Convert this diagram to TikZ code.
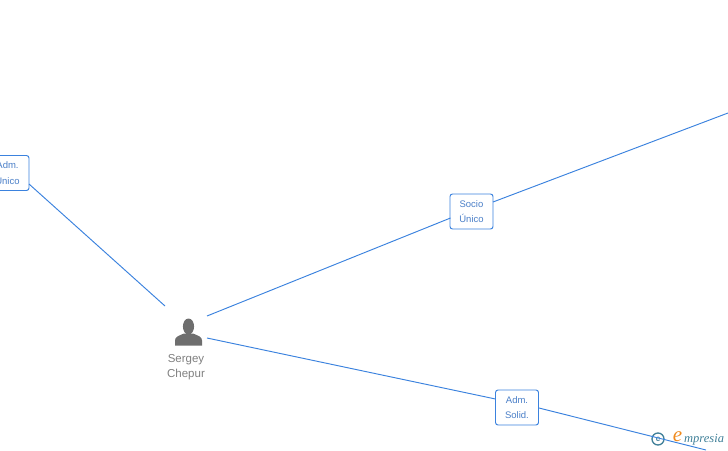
\documentclass[tikz,border=0pt]{standalone}
\usepackage{fontspec}
\setmainfont{Liberation Sans}
\newfontfamily\logofont{Liberation Serif}
\definecolor{linkblue}{HTML}{3B82DE}
\definecolor{labelblue}{HTML}{4A7FC8}
\definecolor{persongray}{HTML}{6E6E6E}
\definecolor{nametext}{HTML}{808080}
\definecolor{logoteal}{HTML}{3F7F98}
\definecolor{logoorange}{HTML}{F08A1E}
\tikzset{
  link/.style={draw=linkblue,line width=0.95pt},
  rolebox/.style={draw=linkblue,line width=0.95pt,rounded corners=2.5pt,fill=white,minimum width=43pt,minimum height=35pt,inner sep=0pt,align=center,text=labelblue,font=\fontsize{9.5}{15.5}\selectfont},
  namelabel/.style={inner sep=0pt,align=center,text=nametext,font=\fontsize{11.5}{15}\selectfont},
}
\begin{document}
\begin{tikzpicture}[x=1pt,y=-1pt]
\useasboundingbox (0,0) rectangle (728,450);
\clip (0,0) rectangle (728,450);
% logo
\node[draw=logoteal,line width=1.3pt,circle,minimum size=12pt,inner sep=0pt,text=logoteal,font=\fontsize{8}{8}\selectfont\bfseries] (copyr) at (658,439) {c};
\node[inner sep=0pt,text=logoorange,font=\logofont\itshape\fontsize{21}{21}\selectfont] (logoe) at (677.5,436.5) {e};
\node[inner sep=0pt,anchor=base west,text=logoteal,font=\logofont\itshape\fontsize{12.5}{12.5}\selectfont] (logotext) at (684,442.5) {mpresia};
% person icon
\node[inner sep=0pt,minimum width=27pt,minimum height=27pt] (person) at (188.5,332) {};
\fill[persongray] (188.5,326.5) ellipse (5.6pt and 8pt);
\fill[persongray] (175,345.5) -- (175,340.5) .. controls (175,337) and (178,336) .. (184,333.5)
  -- (193,333.5) .. controls (199,336) and (202,337) .. (202,340.5) -- (202,345.5) -- cycle;
\node[namelabel] (name) at (186,367.5) {Sergey\\Chepur};
% boxes
\node[rolebox] (admu) at (7.5,173) {Adm.\\Único};
\node[rolebox] (socio) at (471.5,211.5) {Socio\\Único};
\node[rolebox] (adms) at (517,407.5) {Adm.\\Solid.};
% connector ends
\coordinate (pa) at (165,306);
\coordinate (pb) at (207,316);
\coordinate (pc) at (207,338);
\coordinate (far1) at (728,113);
\coordinate (far2) at (706,450);
\coordinate (sl) at (450.5,218);
\coordinate (sr) at (493,202);
\coordinate (al) at (495.5,399);
\coordinate (ar) at (539,408);
\coordinate (ul) at (29,184);
\draw[link] (ul) -- (pa);
\draw[link] (pb) -- (sl);
\draw[link] (sr) -- (far1);
\draw[link] (pc) -- (al);
\draw[link] (ar) -- (far2);
\end{tikzpicture}
\end{document}
